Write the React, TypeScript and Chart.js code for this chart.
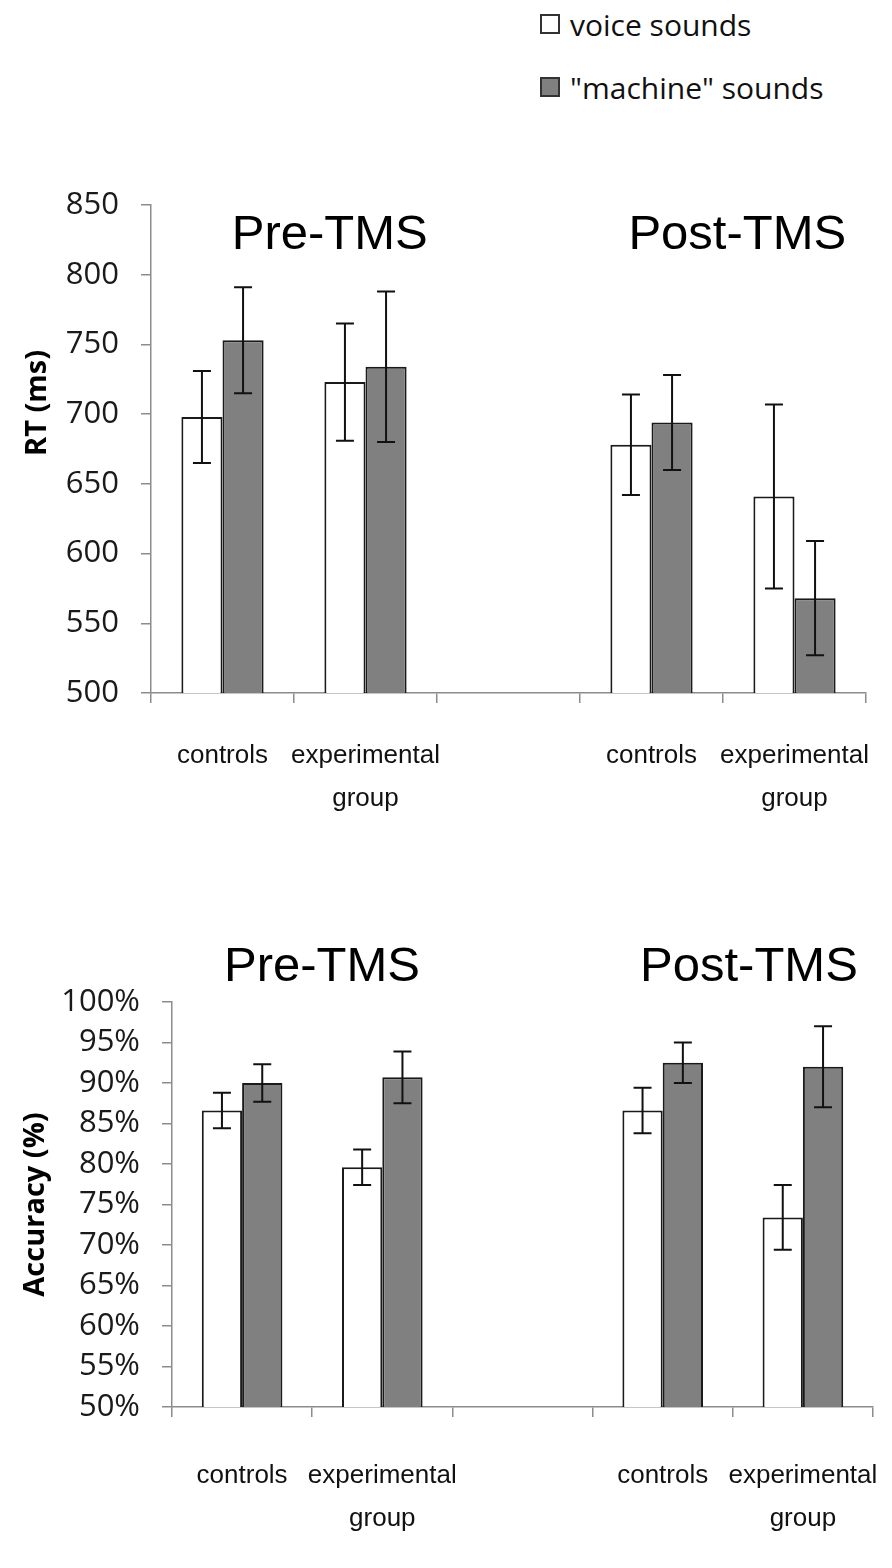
import { useEffect, useRef } from "react";
import { Chart, registerables } from "chart.js";

Chart.register(...registerables);

// categories (the empty slot separates the two phases)
const groupLabels = ["controls", ["experimental", "group"], "", "controls", ["experimental", "group"]];
const seriesNames = ["voice sounds", "\"machine\" sounds"];
const phaseTitles = ["Pre-TMS", "Post-TMS"];

// reaction times (ms) and error bars
const rtVoice = [698, 723, null, 678, 641];
const rtVoiceErr = [33, 42, null, 36, 66];
const rtMachine = [753, 734, null, 694, 568];
const rtMachineErr = [38, 54, null, 34, 41];

// accuracy (%) and error bars
const accVoice = [86.6, 79.6, null, 86.6, 73.4];
const accVoiceErr = [2.2, 2.2, null, 2.8, 4.0];
const accMachine = [90.0, 90.7, null, 92.5, 92.0];
const accMachineErr = [2.3, 3.2, null, 2.5, 5.0];

const axisGrey = "#8c8c8c";
const tickFont = "'Open Sans', 'Noto Sans', sans-serif";
const labelFont = "'Liberation Sans', Arial, sans-serif";

const errorBars = {
	id: "errorBars",
	afterDatasetsDraw(chart: any, _args: any, opts: any) {
		const { ctx } = chart;
		const y = chart.scales.y;
		ctx.save();
		ctx.strokeStyle = "#111";
		ctx.lineWidth = 2;
		chart.data.datasets.forEach((ds: any, di: number) => {
			const errs = opts.errors[di];
			chart.getDatasetMeta(di).data.forEach((bar: any, i: number) => {
				const v = ds.data[i];
				const e = errs[i];
				if (v == null || e == null) return;
				const top = y.getPixelForValue(v + e);
				const bot = y.getPixelForValue(v - e);
				ctx.beginPath();
				ctx.moveTo(bar.x, top);
				ctx.lineTo(bar.x, bot);
				ctx.moveTo(bar.x - 9, top);
				ctx.lineTo(bar.x + 9, top);
				ctx.moveTo(bar.x - 9, bot);
				ctx.lineTo(bar.x + 9, bot);
				ctx.stroke();
			});
		});
		ctx.restore();
	},
};

const panelText = {
	id: "panelText",
	afterDraw(chart: any, _args: any, opts: any) {
		const { ctx } = chart;
		const x = chart.scales.x;
		const y = chart.scales.y;
		ctx.save();
		ctx.fillStyle = "#000";
		ctx.textAlign = "center";
		ctx.textBaseline = "middle";
		ctx.font = `49px ${labelFont}`;
		opts.titles.forEach((t: any) => {
			ctx.fillText(t.text, x.getPixelForValue(t.x), y.getPixelForValue(t.y));
		});
		ctx.translate(opts.axisTitle.x, y.getPixelForValue(opts.axisTitle.y));
		ctx.rotate(-Math.PI / 2);
		ctx.font = `bold 29px ${tickFont}`;
		ctx.fillText(opts.axisTitle.text, 0, 0);
		ctx.restore();
	},
};

function BarPanel({
	voice,
	voiceErr,
	machine,
	machineErr,
	yMin,
	yMax,
	yStep,
	suffix,
	yAxisWidth,
	xAxisHeight,
	padTop,
	padRight,
	labelPad,
	titlePos,
	axisTitle,
}: any) {
	const chartRef = useRef<HTMLCanvasElement>(null);
	const chartInstance = useRef<Chart | null>(null);

	useEffect(() => {
		if (!chartRef.current) return;
		if (chartInstance.current) chartInstance.current.destroy();
		const ctx = chartRef.current.getContext("2d");
		if (!ctx) return;

		chartInstance.current = new Chart(ctx, {
			type: "bar",
			data: {
				labels: groupLabels,
				datasets: [
					{
						label: seriesNames[0],
						data: voice,
						backgroundColor: "#ffffff",
						borderColor: "#1a1a1a",
						borderWidth: 2,
					},
					{
						label: seriesNames[1],
						data: machine,
						backgroundColor: "#808080",
						borderColor: "#1a1a1a",
						borderWidth: 2,
					},
				],
			},
			options: {
				responsive: true,
				maintainAspectRatio: false,
				animation: false,
				layout: { padding: { top: padTop, right: padRight, left: 0, bottom: 0 } },
				datasets: { bar: { categoryPercentage: 0.575, barPercentage: 1 } },
				plugins: {
					legend: { display: false },
					tooltip: { enabled: false },
					errorBars: { errors: [voiceErr, machineErr] },
					panelText: {
						titles: [
							{ text: phaseTitles[0], x: titlePos[0][0], y: titlePos[0][1] },
							{ text: phaseTitles[1], x: titlePos[1][0], y: titlePos[1][1] },
						],
						axisTitle,
					},
				} as any,
				scales: {
					x: {
						afterFit: (s: any) => {
							s.height = xAxisHeight;
							s.paddingLeft = 0;
							s.paddingRight = 0;
						},
						grid: {
							display: true,
							drawOnChartArea: false,
							drawTicks: true,
							tickLength: 10,
							color: axisGrey,
							lineWidth: 1.5,
						},
						border: { color: axisGrey, width: 1.5 },
						ticks: {
							maxRotation: 0,
							autoSkip: false,
							padding: labelPad,
							color: "#111",
							font: { family: labelFont, size: 26, lineHeight: 1.65 },
						},
					},
					y: {
						min: yMin,
						max: yMax,
						afterFit: (s: any) => {
							s.width = yAxisWidth;
						},
						grid: {
							display: true,
							drawOnChartArea: false,
							drawTicks: true,
							tickLength: 10,
							color: axisGrey,
							lineWidth: 1.5,
						},
						border: { color: axisGrey, width: 1.5 },
						ticks: {
							stepSize: yStep,
							padding: 22,
							color: "#1a1a1a",
							font: { family: tickFont, size: 31 },
							callback: (v: any) => `${v}${suffix}`,
						},
					},
				},
			},
			plugins: [errorBars, panelText],
		} as any);

		return () => {
			if (chartInstance.current) {
				chartInstance.current.destroy();
				chartInstance.current = null;
			}
		};
	}, []);

	return <canvas ref={chartRef} />;
}

export default function App() {
	useEffect(() => {
		document.body.style.margin = "0";
	}, []);

	return (
		<div
			style={{
				position: "absolute",
				left: 0,
				top: 0,
				width: 892,
				height: 1568,
				background: "#fff",
				overflow: "hidden",
			}}
		>
			{seriesNames.map((name, i) => (
				<div
					key={name}
					style={{
						position: "absolute",
						left: 540,
						top: i === 0 ? 4 : 67,
						height: 40,
						display: "flex",
						alignItems: "center",
						fontFamily: tickFont,
						fontSize: 30,
						color: "#111",
						whiteSpace: "nowrap",
					}}
				>
					<span
						style={{
							display: "inline-block",
							width: 16,
							height: 16,
							border: "2px solid #333",
							background: i === 0 ? "#fff" : "#808080",
							marginRight: 10,
						}}
					/>
					{name}
				</div>
			))}

			<div style={{ position: "absolute", left: 0, top: 150, width: 892, height: 700 }}>
				<BarPanel
					voice={rtVoice}
					voiceErr={rtVoiceErr}
					machine={rtMachine}
					machineErr={rtMachineErr}
					yMin={500}
					yMax={850}
					yStep={50}
					suffix=""
					yAxisWidth={151}
					xAxisHeight={157}
					padTop={55}
					padRight={26}
					labelPad={31}
					titlePos={[
						[0.75, 828],
						[3.6, 828],
					]}
					axisTitle={{ text: "RT (ms)", x: 38, y: 708 }}
				/>
			</div>

			<div style={{ position: "absolute", left: 0, top: 920, width: 892, height: 648 }}>
				<BarPanel
					voice={accVoice}
					voiceErr={accVoiceErr}
					machine={accMachine}
					machineErr={accMachineErr}
					yMin={50}
					yMax={100}
					yStep={5}
					suffix="%"
					yAxisWidth={172}
					xAxisHeight={161}
					padTop={82}
					padRight={19}
					labelPad={37}
					titlePos={[
						[0.57, 104.3],
						[3.615, 104.3],
					]}
					axisTitle={{ text: "Accuracy (%)", x: 36, y: 75 }}
				/>
			</div>
		</div>
	);
}
